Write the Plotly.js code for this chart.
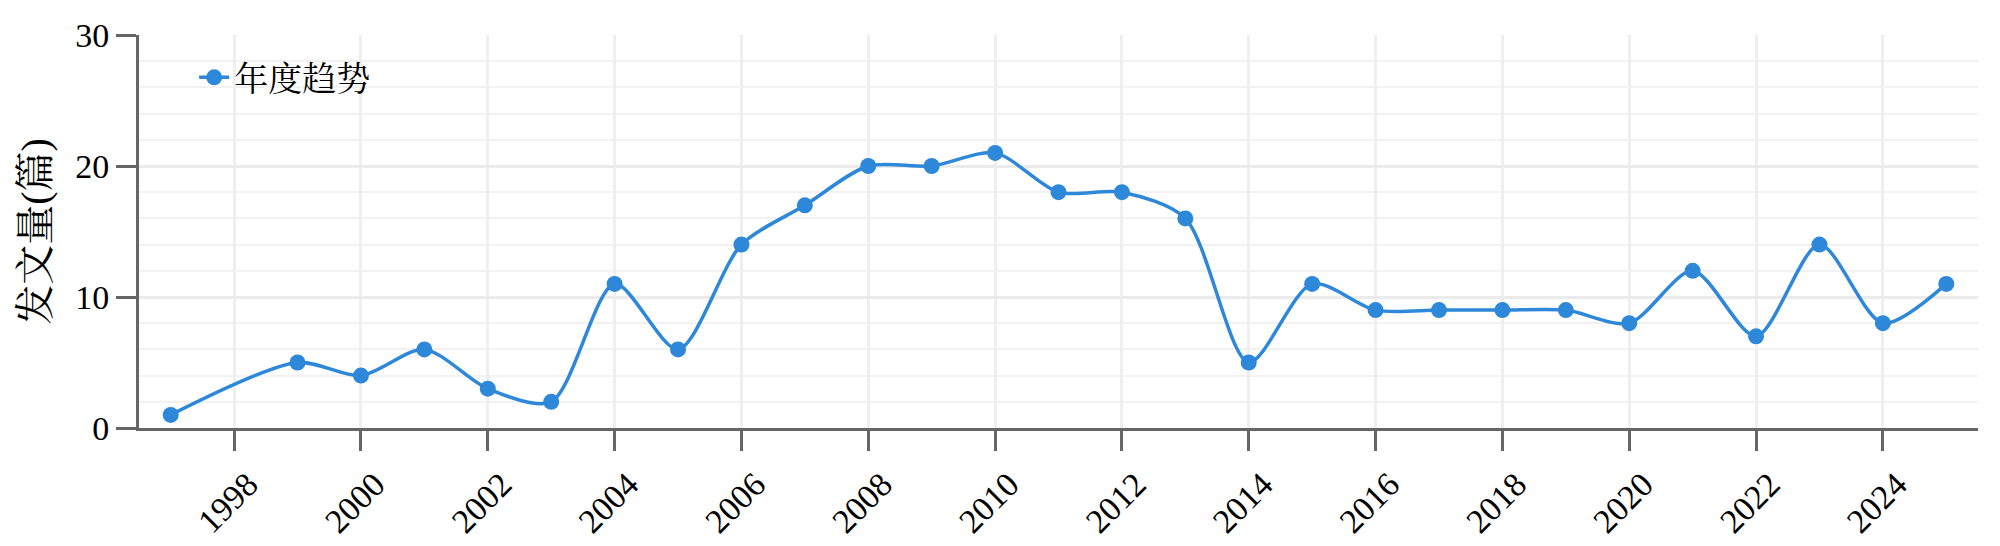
<!DOCTYPE html>
<html>
<head>
<meta charset="utf-8">
<script src="https://cdn.plot.ly/plotly-3.0.1.min.js"></script>
<style>html,body{margin:0;padding:0;background:#fff;}#chart{width:2000px;height:546px;}</style>
</head>
<body>
<div id="chart"></div>
<script>
const years = [1997, 1999, 2000, 2001, 2002, 2003, 2004, 2005, 2006, 2007, 2008, 2009, 2010, 2011, 2012, 2013, 2014, 2015, 2016, 2017, 2018, 2019, 2020, 2021, 2022, 2023, 2024, 2025];
const counts = [1, 5, 4, 6, 3, 2, 11, 6, 14, 17, 20, 20, 21, 18, 18, 16, 5, 11, 9, 9, 9, 9, 8, 12, 7, 14, 8, 11];
const seriesName = '年度趋势';
const yTitle = '发文量(篇)';
const xTickVals = [1998, 2000, 2002, 2004, 2006, 2008, 2010, 2012, 2014, 2016, 2018, 2020, 2022, 2024];
const yTickVals = [0, 10, 20, 30];

const FONT = '"Times New Roman", "Liberation Serif", "Noto Serif CJK SC", "Noto Sans CJK SC", serif';
const BLUE = '#2e88d9';

const trace = {
  x: years, y: counts, name: seriesName, type: 'scatter', mode: 'lines+markers',
  line: {color: BLUE, width: 3.5, shape: 'spline', smoothing: 0.8},
  marker: {color: BLUE, size: 16},
  showlegend: true
};

const layout = {
  width: 2000, height: 546,
  margin: {l: 139, r: 22, t: 35, b: 118},
  paper_bgcolor: '#fff', plot_bgcolor: '#fff',
  font: {family: FONT, size: 34, color: '#000'},
  showlegend: true,
  legend: {x: 0.03, y: 0.965, xanchor: 'left', yanchor: 'top', bgcolor: 'rgba(0,0,0,0)',
           font: {family: FONT, size: 34, color: '#000'}, itemwidth: 30},
  xaxis: {
    range: [1996.5, 2025.5], tickmode: 'array', tickvals: xTickVals, ticktext: xTickVals.map(String),
    tickangle: -45, ticks: 'outside', ticklen: 20, tickwidth: 3, tickcolor: '#666',
    ticklabelshift: 14, ticklabelstandoff: 0,
    showline: true, linecolor: '#666', linewidth: 3,
    showgrid: true, gridcolor: '#efefef', gridwidth: 3, zeroline: false,
    tickfont: {family: FONT, size: 34, color: '#000'}
  },
  yaxis: {
    range: [0, 30], tickmode: 'array', tickvals: yTickVals,
    ticks: 'outside', ticklen: 20, tickwidth: 3, tickcolor: '#666',
    showline: true, linecolor: '#666', linewidth: 3,
    showgrid: true, gridcolor: '#ebebeb', gridwidth: 3, zeroline: false,
    minor: {tickmode: 'linear', dtick: 2, showgrid: true, gridcolor: '#f2f2f2', gridwidth: 2, ticks: ''},
    tickfont: {family: FONT, size: 34, color: '#000'},
    title: {text: yTitle, font: {family: FONT, size: 40, color: '#000'}, standoff: 14}
  }
};

Plotly.newPlot('chart', [trace], layout, {displayModeBar: false, staticPlot: true});
</script>
</body>
</html>
